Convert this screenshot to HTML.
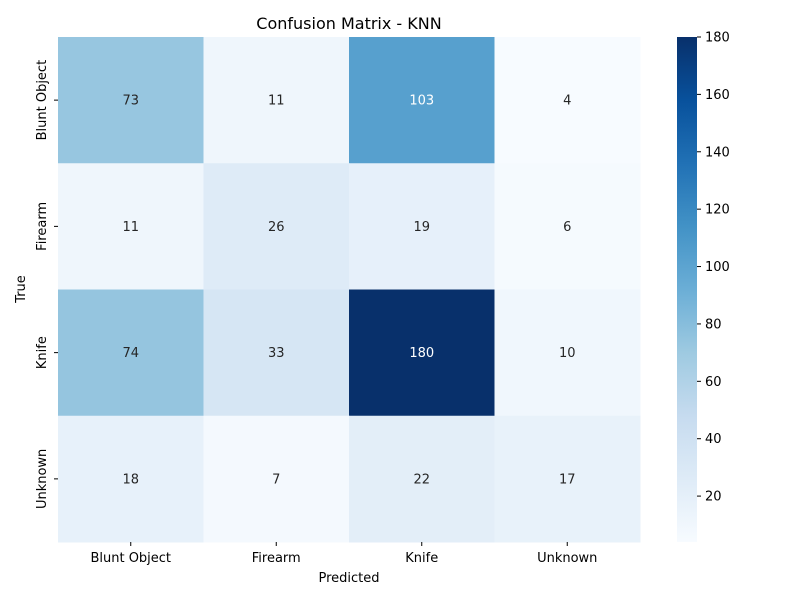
<!DOCTYPE html>
<html><head><meta charset="utf-8"><style>
body{margin:0;background:#fff;font-family:"Liberation Sans","DejaVu Sans",sans-serif}
</style></head><body>
<svg id="chart" width="800" height="600" xmlns="http://www.w3.org/2000/svg" font-family="DejaVu Sans, Liberation Sans, sans-serif">
<defs><linearGradient id="cbg" x1="0" y1="1" x2="0" y2="0">
<stop offset="0" stop-color="#f7fbff"/><stop offset="0.125" stop-color="#deebf7"/><stop offset="0.25" stop-color="#c6dbef"/><stop offset="0.375" stop-color="#9ecae1"/><stop offset="0.5" stop-color="#6baed6"/><stop offset="0.625" stop-color="#4292c6"/><stop offset="0.75" stop-color="#2171b5"/><stop offset="0.875" stop-color="#08519c"/><stop offset="1" stop-color="#08306b"/>
</linearGradient></defs>
<text x="349" y="29" font-size="16" text-anchor="middle">Confusion Matrix - KNN</text>
<g id="cells"></g>
<rect x="677" y="37" width="20" height="505" fill="url(#cbg)"/>
<g id="cbticks"></g>
<text x="349" y="582" font-size="13" text-anchor="middle">Predicted</text>
<text transform="translate(25,289) rotate(-90)" font-size="13" text-anchor="middle">True</text>
</svg>
<script>
const labels=["Blunt Object","Firearm","Knife","Unknown"];
const matrix=[[73,11,103,4],[11,26,19,6],[74,33,180,10],[18,7,22,17]];
const cbTicks=[20,40,60,80,100,120,140,160,180];
const vmin=4,vmax=180;
const L=58,R=640,T=37,B=542;
const stops=["#f7fbff","#deebf7","#c6dbef","#9ecae1","#6baed6","#4292c6","#2171b5","#08519c","#08306b"].map(h=>[1,3,5].map(i=>parseInt(h.substr(i,2),16)));
function color(v){let t=(v-vmin)/(vmax-vmin)*8;let i=Math.min(7,Math.floor(t));let f=t-i;const c=stops[i].map((a,k)=>Math.round(a+(stops[i+1][k]-a)*f));return `rgb(${c})`;}
const ns="http://www.w3.org/2000/svg";
const svg=document.getElementById('chart');
const g=document.getElementById('cells');
const cw=(R-L)/4,ch=(B-T)/4;
function el(tag,attrs,parent,txt){const e=document.createElementNS(ns,tag);for(const k in attrs)e.setAttribute(k,attrs[k]);if(txt!==undefined)e.textContent=txt;parent.appendChild(e);return e;}
matrix.forEach((row,r)=>row.forEach((v,c)=>{
 const rc=el('rect',{x:L+c*cw,y:T+r*ch,width:cw+0.5,height:ch+0.5,fill:color(v)},g);
 
 
 const tx=el('text',{x:L+(c+0.5)*cw,y:T+(r+0.5)*ch+4.5,'font-size':13,'text-anchor':'middle',fill:v>(vmin+vmax)/2?'#fff':'#262626'},g,String(v));
 
 
}));
labels.forEach((lab,i)=>{
 const x=L+(i+0.5)*cw;
 el('line',{x1:x,x2:x,y1:B,y2:B+4,stroke:'#000'},svg);
 const t=el('text',{x:x,y:B+20,'font-size':13,'text-anchor':'middle'},svg,lab);
 
 
 const y=T+(i+0.5)*ch;
 el('line',{x1:L-4,x2:L,y1:y,y2:y,stroke:'#000'},svg);
 const t2=el('text',{transform:`translate(${L-12},${y}) rotate(-90)`,'font-size':13,'text-anchor':'middle'},svg,lab);
 
 
});
const cb=document.getElementById('cbticks');
cbTicks.forEach(v=>{
 const y=B-(v-vmin)/(vmax-vmin)*(B-T);
 el('line',{x1:697,x2:701,y1:y,y2:y,stroke:'#000'},cb);
 const t=el('text',{x:705,y:y+4.5,'font-size':13},cb,String(v));
 
 
});
</script>
</body></html>
